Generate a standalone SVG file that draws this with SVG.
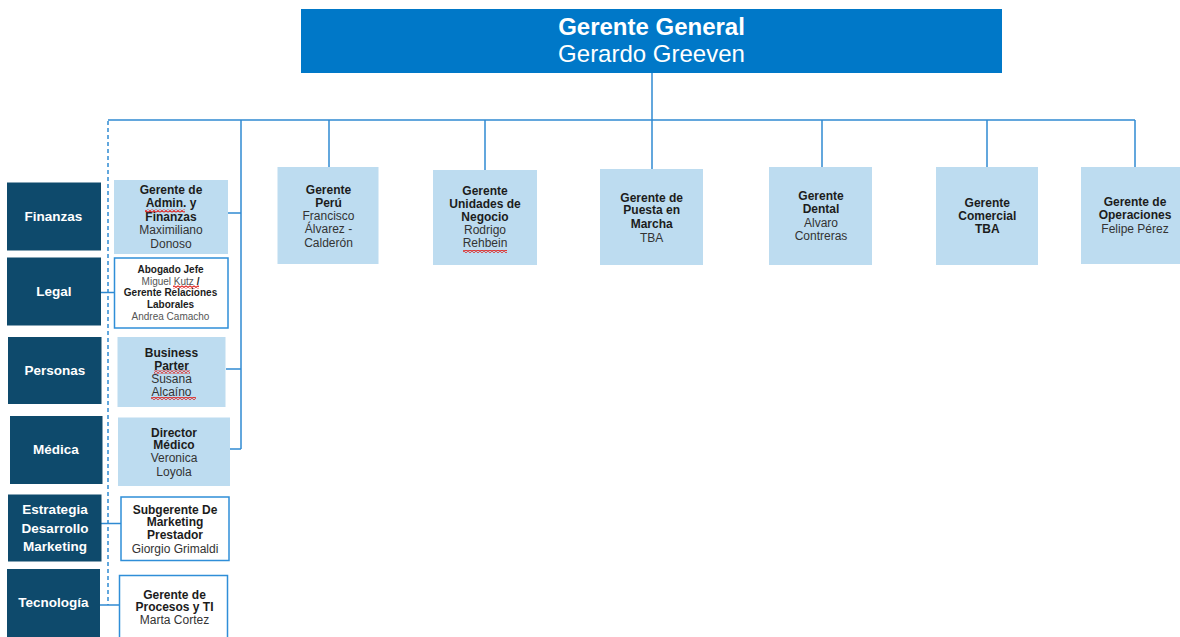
<svg xmlns="http://www.w3.org/2000/svg" width="1180" height="637" viewBox="0 0 1180 637">
  <style>
    text { font-family: "Liberation Sans", Arial, sans-serif; text-anchor: middle; }
    .head { fill: #ffffff; font-size: 24px; }
    .area { fill: #0e4a6c; }
    .area-t { fill: #ffffff; font-size: 13.5px; font-weight: bold; }
    .role { fill: #bddcf0; }
    .role-w { fill: #ffffff; stroke: #2f8ed8; stroke-width: 1.5; }
    .b { font-size: 12px; font-weight: bold; fill: #1c1c1c; }
    .r { font-size: 12px; fill: #333333; }
    .sb { font-size: 10px; font-weight: bold; fill: #1c1c1c; }
    .sr { font-size: 10px; fill: #555555; }
    .link { stroke: #2f8ad2; stroke-width: 1.5; fill: none; }
    .dash { stroke: #2f8ad2; stroke-width: 1.5; fill: none; stroke-dasharray: 4 3; }
    .spell { fill: url(#squiggle); }
  </style>
  <defs>
    <pattern id="squiggle" patternUnits="userSpaceOnUse" width="4" height="3">
      <path d="M0,2.5 L2,0.5 L4,2.5" stroke="#e0201c" stroke-width="1.1" fill="none"/>
    </pattern>
  </defs>

  <rect width="1180" height="637" fill="#ffffff"/>

  <!-- connectors -->
  <g id="connectors">
    <path class="link" d="M652,73 V120"/>
    <path class="link" d="M108,120 H1135"/>
    <path class="link" d="M329,120 V167"/>
    <path class="link" d="M485,120 V170"/>
    <path class="link" d="M652,120 V169"/>
    <path class="link" d="M822,120 V167"/>
    <path class="link" d="M987,120 V167"/>
    <path class="link" d="M1135,120 V167"/>
    <path class="link" d="M241,120 V449"/>
    <path class="link" d="M241,213 H228"/>
    <path class="link" d="M241,369 H226"/>
    <path class="link" d="M241,449 H230" stroke-width="2"/>
    <path class="dash" d="M108,121 V605"/>
    <path class="link" d="M101,292.5 H114" stroke-width="1"/>
    <path class="link" d="M101,523.5 H121" stroke-width="1"/>
    <path class="link" d="M100,605 H119" stroke-width="1"/>
  </g>

  <!-- top: general manager -->
  <g id="gerente-general">
    <rect x="301" y="9" width="701" height="64" fill="#0078c8"/>
    <text class="head" x="651.5" y="35" font-weight="bold">Gerente General</text>
    <text class="head" x="651.5" y="62">Gerardo Greeven</text>
  </g>

  <!-- direct reports, top row -->
  <g id="gerente-peru">
    <rect class="role" x="277.5" y="167" width="101" height="97"/>
    <text class="b" x="328.5" y="194">Gerente</text>
    <text class="b" x="328.5" y="206.5">Perú</text>
    <text class="r" x="328.5" y="220">Francisco</text>
    <text class="r" x="328.5" y="233.3">Álvarez -</text>
    <text class="r" x="328.5" y="246.7">Calderón</text>
  </g>
  <g id="gerente-unidades">
    <rect class="role" x="433" y="170" width="104" height="95"/>
    <text class="b" x="485" y="195">Gerente</text>
    <text class="b" x="485" y="207.7">Unidades de</text>
    <text class="b" x="485" y="221">Negocio</text>
    <text class="r" x="485" y="234">Rodrigo</text>
    <text class="r" x="485" y="247.3">Rehbein</text>
    <rect class="spell" x="463" y="250" width="44" height="3"/>
  </g>
  <g id="gerente-puesta-en-marcha">
    <rect class="role" x="600" y="169" width="103" height="96"/>
    <text class="b" x="651.7" y="201.7">Gerente de</text>
    <text class="b" x="651.7" y="214.3">Puesta en</text>
    <text class="b" x="651.7" y="227.7">Marcha</text>
    <text class="r" x="651.7" y="241.7">TBA</text>
  </g>
  <g id="gerente-dental">
    <rect class="role" x="769" y="167" width="103" height="98"/>
    <text class="b" x="821" y="200">Gerente</text>
    <text class="b" x="821" y="213.3">Dental</text>
    <text class="r" x="821" y="226.7">Alvaro</text>
    <text class="r" x="821" y="240">Contreras</text>
  </g>
  <g id="gerente-comercial">
    <rect class="role" x="936" y="167" width="102" height="98"/>
    <text class="b" x="987.3" y="206.7">Gerente</text>
    <text class="b" x="987.3" y="220">Comercial</text>
    <text class="b" x="987.3" y="233.3">TBA</text>
  </g>
  <g id="gerente-operaciones">
    <rect class="role" x="1081" y="167" width="99" height="97"/>
    <text class="b" x="1135" y="206">Gerente de</text>
    <text class="b" x="1135" y="219.3">Operaciones</text>
    <text class="r" x="1135" y="232.7">Felipe Pérez</text>
  </g>

  <!-- functional areas, left column -->
  <g id="area-finanzas">
    <rect class="area" x="7" y="182.5" width="94" height="68"/>
    <text class="area-t" x="53.5" y="221">Finanzas</text>
  </g>
  <g id="area-legal">
    <rect class="area" x="7" y="257.5" width="94" height="68"/>
    <text class="area-t" x="54" y="296">Legal</text>
  </g>
  <g id="area-personas">
    <rect class="area" x="8" y="337" width="93.5" height="67"/>
    <text class="area-t" x="55" y="375">Personas</text>
  </g>
  <g id="area-medica">
    <rect class="area" x="10" y="416" width="92.5" height="68"/>
    <text class="area-t" x="56" y="454">Médica</text>
  </g>
  <g id="area-estrategia">
    <rect class="area" x="8" y="494.5" width="93.5" height="67"/>
    <text class="area-t" x="55" y="514.3">Estrategia</text>
    <text class="area-t" x="55" y="532.7">Desarrollo</text>
    <text class="area-t" x="55" y="551">Marketing</text>
  </g>
  <g id="area-tecnologia">
    <rect class="area" x="7" y="569" width="93" height="68"/>
    <text class="area-t" x="53.5" y="607.3">Tecnología</text>
  </g>

  <!-- area managers -->
  <g id="gerente-admin-finanzas">
    <rect class="role" x="114" y="180" width="114" height="74"/>
    <text class="b" x="171" y="194">Gerente de</text>
    <text class="b" x="171" y="207.3">Admin. y</text>
    <text class="b" x="171" y="221">Finanzas</text>
    <text class="r" x="171" y="234.3">Maximiliano</text>
    <text class="r" x="171" y="247.5">Donoso</text>
    <rect class="spell" x="145" y="209.5" width="40" height="3"/>
  </g>
  <g id="abogado-jefe">
    <rect class="role-w" x="114.5" y="258" width="113.5" height="70"/>
    <text class="sb" x="170.5" y="273.3">Abogado Jefe</text>
    <text class="sr" x="170.5" y="284.5"><tspan>Miguel Kutz </tspan><tspan class="sb">/</tspan></text>
    <text class="sb" x="170.5" y="296">Gerente Relaciones</text>
    <text class="sb" x="170.5" y="307.5">Laborales</text>
    <text class="sr" x="170.5" y="319.7">Andrea Camacho</text>
    <rect class="spell" x="173" y="285.5" width="26" height="3"/>
  </g>
  <g id="business-partner">
    <rect class="role" x="117.5" y="337" width="108" height="70"/>
    <text class="b" x="171.5" y="357.3">Business</text>
    <text class="b" x="171.5" y="369.5">Parter</text>
    <text class="r" x="171.5" y="383.3">Susana</text>
    <text class="r" x="171.5" y="396">Alcaíno</text>
    <rect class="spell" x="154" y="370.5" width="36" height="3"/>
    <rect class="spell" x="151" y="397" width="45" height="3"/>
  </g>
  <g id="director-medico">
    <rect class="role" x="118" y="417.5" width="112" height="68.5"/>
    <text class="b" x="174" y="436.7">Director</text>
    <text class="b" x="174" y="449.3">Médico</text>
    <text class="r" x="174" y="462.3">Veronica</text>
    <text class="r" x="174" y="476">Loyola</text>
  </g>
  <g id="subgerente-marketing">
    <rect class="role-w" x="121" y="497" width="108" height="63.5"/>
    <text class="b" x="175" y="514">Subgerente De</text>
    <text class="b" x="175" y="526">Marketing</text>
    <text class="b" x="175" y="539.3">Prestador</text>
    <text class="r" x="175" y="552.7">Giorgio Grimaldi</text>
  </g>
  <g id="gerente-procesos-ti">
    <rect class="role-w" x="119.5" y="575.5" width="108" height="70"/>
    <text class="b" x="174.5" y="598.7">Gerente de</text>
    <text class="b" x="174.5" y="610.7">Procesos y TI</text>
    <text class="r" x="174.5" y="624">Marta Cortez</text>
  </g>
</svg>
